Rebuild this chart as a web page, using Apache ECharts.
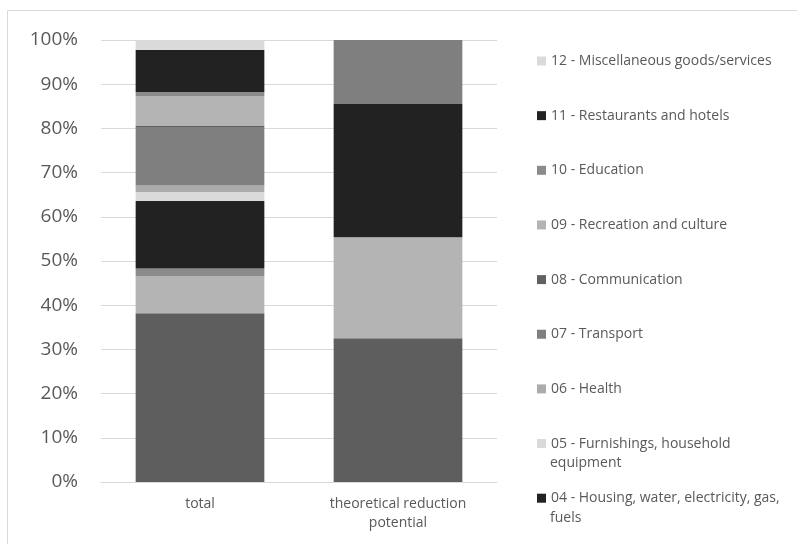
<!DOCTYPE html>
<html>
<head>
<meta charset="utf-8">
<script src="https://cdn.jsdelivr.net/npm/echarts@6/dist/echarts.min.js"></script>
<style>
  html, body { margin: 0; padding: 0; background: #fff; }
  #chart { width: 797px; height: 544px; }
</style>
</head>
<body>
<div id="chart"></div>
<script>
// categories on the x axis
const categories = ["total", "theoretical reduction\npotential"];

// COICOP groups, bottom of the stack first
const groupNames = [
  "01 - Food and non-alcoholic beverages",
  "02 - Alcoholic beverages, tobacco and narcotics",
  "03 - Clothing and footwear",
  "04 - Housing, water, electricity, gas, fuels",
  "05 - Furnishings, household equipment",
  "06 - Health",
  "07 - Transport",
  "08 - Communication",
  "09 - Recreation and culture",
  "10 - Education",
  "11 - Restaurants and hotels",
  "12 - Miscellaneous goods/services",
];

// share in % for [total, theoretical reduction potential]
const totalShares     = [38.2, 8.3, 1.8, 15.3, 2.0, 1.5, 13.2, 0.25, 6.8, 0.9, 9.5, 2.25];
const reductionShares = [32.5, 22.9, 0, 30.1, 0, 0, 14.5, 0, 0, 0, 0, 0];

const groupColors = [
  "#5e5e5e", "#b4b4b4", "#8b8b8b", "#222222", "#dadada", "#ababab",
  "#7f7f7f", "#616161", "#b4b4b4", "#8b8b8b", "#222222", "#dadada",
];

// legend only shows 12 down to 04 (the rest is cut off in the original)
const legendShown = groupNames.slice(3).reverse();
// where the legend wraps a long name onto a second line
const legendFirstLine = {
  "05 - Furnishings, household equipment": ["05 - Furnishings, household", "equipment"],
  "04 - Housing, water, electricity, gas, fuels": ["04 - Housing, water, electricity, gas,", "fuels"],
};

var chart = echarts.init(document.getElementById("chart"), null, { renderer: "canvas" });

const font = "'Open Sans', 'Liberation Sans', sans-serif";
const lh = 19.5;
const legendFont = 14;

var extraText = [];
var legends = legendShown.map(function (name, i) {
  var cy = 61 + i * 54.65;
  var wrap = legendFirstLine[name];
  if (wrap) {
    extraText.push({
      type: "text",
      left: 550,
      top: cy + lh - legendFont * 0.5,
      silent: true,
      style: { text: wrap[1], fill: "#595959", font: legendFont + "px " + font },
    });
  }
  return {
    show: true,
    data: [name],
    left: 537,
    top: cy - lh / 2,
    padding: 0,
    itemWidth: 9,
    itemHeight: 9,
    icon: "rect",
    selectedMode: false,
    formatter: function (n) { return legendFirstLine[n] ? legendFirstLine[n][0] : n; },
    textStyle: {
      color: "#595959",
      fontSize: legendFont,
      fontFamily: font,
      lineHeight: lh,
    },
  };
});

var series = groupNames.map(function (name, i) {
  return {
    name: name,
    type: "bar",
    stack: "all",
    barWidth: "65%",
    itemStyle: { color: groupColors[i] },
    emphasis: { disabled: true },
    data: [totalShares[i], reductionShares[i]],
  };
});

var option = {
  animation: false,
  backgroundColor: "#ffffff",
  graphic: [
    {
      type: "rect",
      shape: { x: 7.5, y: 10.5, width: 820, height: 600 },
      style: { fill: "none", stroke: "#d9d9d9", lineWidth: 1 },
      silent: true,
    },
  ].concat(extraText),
  legend: legends,
  grid: { left: 101, right: 300, top: 40, bottom: 62 },
  xAxis: {
    type: "category",
    data: categories,
    axisLine: { show: true, lineStyle: { color: "#d9d9d9", width: 1 } },
    axisTick: { show: false },
    axisLabel: {
      color: "#595959",
      fontSize: 14,
      fontFamily: font,
      lineHeight: 19.5,
      margin: 12,
    },
  },
  yAxis: {
    type: "value",
    min: 0,
    max: 100,
    interval: 10,
    axisLine: { show: false },
    axisTick: { show: false },
    splitLine: { lineStyle: { color: "#d9d9d9", width: 1 } },
    axisLabel: {
      formatter: "{value}%",
      color: "#595959",
      fontSize: 19,
      fontFamily: font,
      margin: 23,
    },
  },
  series: series,
};

chart.setOption(option);
</script>
</body>
</html>
